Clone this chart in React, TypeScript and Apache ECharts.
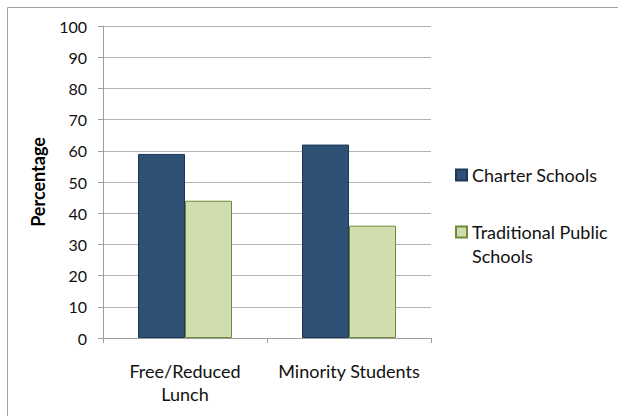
import { useEffect, useRef } from 'react';
import * as echarts from 'echarts';

// Category labels along the x axis
const categories: string[] = ['Free/Reduced\nLunch', 'Minority Students'];

// Share of students (%) per school type
const charterSchools: number[] = [59, 62];
const traditionalPublicSchools: number[] = [44, 36];

// Series names shown in the legend
const seriesNames: string[] = ['Charter Schools', 'Traditional Public Schools'];

// Value axis range and step
const yMin = 0;
const yMax = 100;
const yStep = 10;

const FONT = 'Lato, "Liberation Sans", sans-serif';

export default function App() {
  const ref = useRef<HTMLDivElement>(null);

  useEffect(() => {
    if (!ref.current) return;
    const chart = echarts.init(ref.current, undefined, { renderer: 'svg' });

    chart.setOption({
      animation: false,
      backgroundColor: '#ffffff',
      textStyle: { fontFamily: FONT },
      grid: { left: 103, top: 26, width: 328, height: 312, containLabel: false },
      graphic: [
        {
          type: 'rect',
          shape: { x: 7.5, y: 7.5, width: 800, height: 600 },
          style: { fill: 'none', stroke: '#a3a3a3', lineWidth: 1 },
          silent: true,
        },
      ],
      legend: [
        {
          data: [seriesNames[0]],
          orient: 'vertical',
          left: 455,
          top: 163,
          padding: 0,
          itemWidth: 11,
          itemHeight: 11,
          itemGap: 0,
          icon: 'rect',
          textStyle: { fontFamily: FONT, fontSize: 18, color: '#111111', lineHeight: 24 },
        },
        {
          data: [seriesNames[1]],
          orient: 'vertical',
          left: 455,
          top: 196,
          padding: 0,
          itemWidth: 11,
          itemHeight: 11,
          itemGap: 0,
          icon: 'rect',
          // leading blank line keeps the swatch level with the first text line
          formatter: () => '\nTraditional Public\nSchools',
          textStyle: { fontFamily: FONT, fontSize: 18, color: '#111111', lineHeight: 24 },
        },
      ],
      xAxis: {
        type: 'category',
        data: categories,
        axisLine: { show: true, lineStyle: { color: '#9e9e9e', width: 1 } },
        axisTick: { show: true, length: 5, lineStyle: { color: '#9e9e9e' } },
        axisLabel: {
          fontFamily: FONT,
          fontSize: 18,
          lineHeight: 23,
          color: '#111111',
          margin: 21,
          interval: 0,
        },
        splitLine: { show: false },
      },
      yAxis: {
        type: 'value',
        min: yMin,
        max: yMax,
        interval: yStep,
        name: 'Percentage',
        nameLocation: 'middle',
        nameRotate: 90,
        nameGap: 56,
        nameTextStyle: { fontFamily: FONT, fontSize: 18, fontWeight: 'bold', color: '#000000' },
        axisLine: { show: true, lineStyle: { color: '#9e9e9e', width: 1 } },
        axisTick: { show: true, length: 5, lineStyle: { color: '#9e9e9e' } },
        axisLabel: { fontFamily: FONT, fontSize: 16, color: '#111111', margin: 16 },
        splitLine: { show: true, lineStyle: { color: '#b3b3b3', width: 1 } },
      },
      series: [
        {
          name: seriesNames[0],
          type: 'bar',
          data: charterSchools,
          barWidth: 47,
          barGap: '0%',
          itemStyle: { color: '#2e5075', borderColor: '#1d3857', borderWidth: 1 },
        },
        {
          name: seriesNames[1],
          type: 'bar',
          data: traditionalPublicSchools,
          barWidth: 47,
          barGap: '0%',
          itemStyle: { color: '#d0deaf', borderColor: '#71893b', borderWidth: 1 },
        },
      ],
    });

    return () => chart.dispose();
  }, []);

  return (
    <div
      ref={ref}
      style={{ position: 'absolute', left: 0, top: 0, width: 618, height: 416 }}
    />
  );
}
